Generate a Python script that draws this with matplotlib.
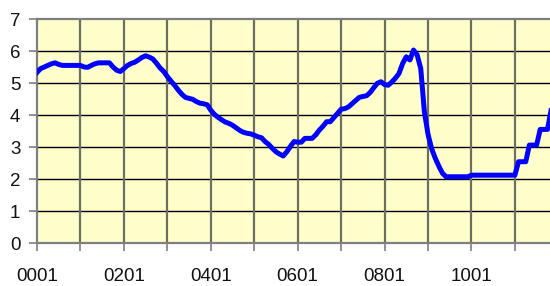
import matplotlib
matplotlib.use("Agg")
import matplotlib.pyplot as plt

# Monthly values, Jan 2000 onward
values = [
    5.33, 5.45, 5.50, 5.55, 5.60, 5.63, 5.58, 5.55, 5.55, 5.55, 5.55, 5.55,   # 2000
    5.55, 5.50, 5.49, 5.55, 5.60, 5.63, 5.63, 5.63, 5.63, 5.50, 5.40, 5.36,   # 2001
    5.45, 5.55, 5.61, 5.65, 5.72, 5.80, 5.85, 5.81, 5.75, 5.62, 5.47, 5.36,   # 2002
    5.20, 5.06, 4.93, 4.78, 4.65, 4.55, 4.52, 4.49, 4.42, 4.37, 4.35, 4.32,   # 2003
    4.15, 4.02, 3.93, 3.85, 3.78, 3.74, 3.68, 3.60, 3.52, 3.46, 3.43, 3.41,   # 2004
    3.37, 3.32, 3.29, 3.17, 3.08, 2.96, 2.85, 2.78, 2.72, 2.85, 3.02, 3.17,   # 2005
    3.15, 3.15, 3.27, 3.27, 3.27, 3.38, 3.53, 3.65, 3.79, 3.79, 3.92, 4.05,   # 2006
    4.18, 4.20, 4.25, 4.35, 4.45, 4.55, 4.58, 4.60, 4.70, 4.85, 4.99, 5.04,   # 2007
    4.95, 4.93, 5.03, 5.15, 5.30, 5.61, 5.82, 5.72, 6.03, 5.88, 5.45, 4.10,   # 2008
    3.40, 2.95, 2.65, 2.40, 2.18, 2.07, 2.07, 2.07, 2.07, 2.07, 2.07, 2.07,   # 2009
    2.12, 2.12, 2.12, 2.12, 2.12, 2.12, 2.12, 2.12, 2.12, 2.12, 2.12, 2.12,   # 2010
    2.12, 2.54, 2.54, 2.54, 3.06, 3.06, 3.06, 3.55, 3.55, 3.55, 4.15,         # 2011
]
tick_labels = ["0001", "", "0201", "", "0401", "", "0601", "", "0801", "", "1001", ""]
y_ticks = [0, 1, 2, 3, 4, 5, 6, 7]

plt.rcParams['font.family'] = ['Liberation Sans', 'DejaVu Sans']

fig = plt.figure(figsize=(5.5, 2.86), dpi=100)
ax = fig.add_axes([37/550, 43/286, 1 - 37/550, 224/286])
ax.set_facecolor('#FFFFCC')

x = list(range(len(values)))
ax.plot(x, values, color='#0000FF', lw=3.6, solid_joinstyle='round', zorder=3)

ax.set_xlim(0, 141.7)
ax.set_ylim(0, 7)

xt = list(range(0, 12 * len(tick_labels), 12))
ax.set_xticks(xt)
ax.set_xticklabels(tick_labels)
ax.set_yticks(y_ticks)

for yv in y_ticks[1:-1]:
    ax.axhline(yv, color='black', lw=1.0, zorder=1)
for xv in xt[1:]:
    ax.axvline(xv, color='#6E6E60', lw=1.6, zorder=1)

ax.spines['right'].set_visible(False)
for s in ['top', 'left', 'bottom']:
    ax.spines[s].set_color('#7F7F7F')
    ax.spines[s].set_linewidth(1.6)

ax.tick_params(axis='y', length=5.5, width=1.2, color='#7F7F7F', pad=6.5,
               labelsize=13.5, labelcolor='#111111')
ax.tick_params(axis='x', length=5.5, width=1.2, color='#7F7F7F', pad=12.5,
               labelsize=13.5, labelcolor='#111111')

fig.savefig('out.png', dpi=100)
